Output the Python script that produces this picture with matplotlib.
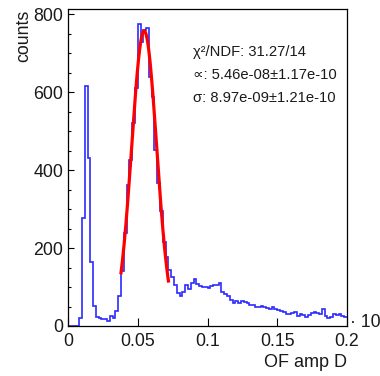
import numpy as np
import matplotlib
matplotlib.use("Agg")
import matplotlib.pyplot as plt
from matplotlib.ticker import FixedLocator, MultipleLocator

# histogram of OF amplitude (channel D), 100 bins from 0 to 0.2
x_min, x_max, n_bins = 0.0, 0.2, 100
counts = [
    0, 0, 0, 0, 21, 276, 615, 430, 163, 51,
    24, 20, 17, 19, 14, 26, 21, 39, 77, 142,
    238, 361, 427, 520, 610, 774, 729, 760, 763, 639,
    588, 451, 366, 296, 216, 177, 144, 126, 105, 84,
    77, 88, 105, 95, 109, 121, 108, 103, 100, 100,
    97, 102, 104, 106, 111, 86, 83, 78, 66, 58,
    65, 58, 65, 62, 58, 54, 53, 48, 48, 51,
    50, 47, 44, 48, 43, 42, 39, 36, 32, 30,
    34, 37, 26, 32, 27, 24, 28, 33, 37, 34,
    30, 43, 26, 20, 23, 32, 28, 32, 26, 22,
]

# gaussian fit result (x axis shown in units of 1e-6)
fit_amp = 757
fit_mean = 0.0546
fit_sigma = 0.00897
fit_range = (0.038, 0.072)
stats_lines = [
    "χ²/NDF: 31.27/14",
    "∝: 5.46e-08±1.17e-10",
    "σ: 8.97e-09±1.21e-10",
]

x_ticks = [0, 0.05, 0.1, 0.15, 0.2]
x_ticklabels = ["0", "0.05", "0.1", "0.15", "0.2"]
y_ticks = [0, 200, 400, 600, 800]
y_ticklabels = ["0", "200", "400", "600", "800"]

plt.rcParams['font.family'] = ['Liberation Sans', 'DejaVu Sans']
plt.rcParams['text.color'] = '#1a1a1a'
plt.rcParams['xtick.labelcolor'] = '#1a1a1a'
plt.rcParams['ytick.labelcolor'] = '#1a1a1a'

fig = plt.figure(figsize=(3.8, 3.76), dpi=100)
ax = fig.add_axes([68 / 380, 1 - 326 / 376, 279 / 380, 317 / 376])

edges = np.linspace(x_min, x_max, n_bins + 1)
ax.stairs(counts, edges, baseline=None, color='#2b2bff', linewidth=1.2)

xf = np.linspace(fit_range[0], fit_range[1], 200)
yf = fit_amp * np.exp(-0.5 * ((xf - fit_mean) / fit_sigma) ** 2)
ax.plot(xf, yf, color='red', linewidth=2.3)

ax.set_xlim(x_min, x_max)
ax.set_ylim(0, 813)

ax.xaxis.set_major_locator(FixedLocator(x_ticks))
ax.set_xticklabels(x_ticklabels)
ax.yaxis.set_major_locator(FixedLocator(y_ticks))
ax.set_yticklabels(y_ticklabels)
ax.yaxis.set_minor_locator(MultipleLocator(50))

ax.tick_params(axis='x', direction='in', length=6, width=0.8, labelsize=12.8, pad=5)
ax.tick_params(axis='y', which='major', direction='in', length=4, width=0.8, labelsize=12.8, pad=3.5)
ax.tick_params(axis='y', which='minor', direction='in', length=2, width=0.8)
for s in ax.spines.values():
    s.set_linewidth(0.9)

# axis titles placed like ROOT does
fig.text(32 / 380, 1 - 10 / 376, "counts", rotation=90, ha='right', va='top', fontsize=12.8)
fig.text(347 / 380, 1 - 366.7 / 376, "OF amp D", ha='right', va='baseline', fontsize=13)
# exponent label, cut by the canvas edge
fig.text(350 / 380, 1 - 327 / 376, "· 10", ha='left', va='baseline', fontsize=12.8)

# fit stats
for i, line in enumerate(stats_lines):
    fig.text(193 / 380, 1 - (56 + 23 * i) / 376, line, ha='left', va='baseline', fontsize=10.6)

fig.savefig("out.png", dpi=100)
